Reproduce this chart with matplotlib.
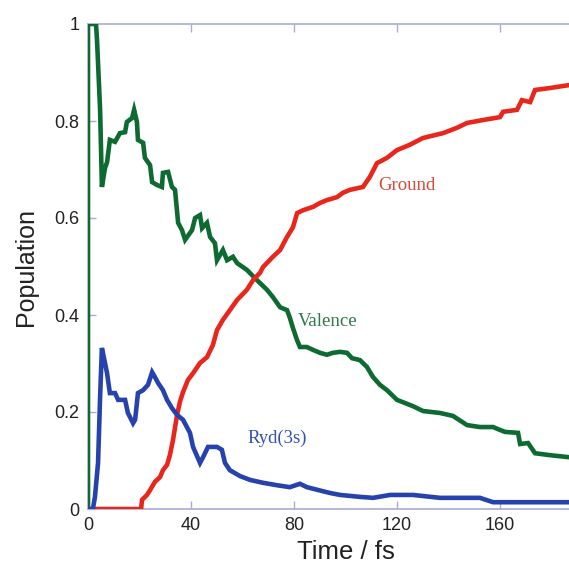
import matplotlib
matplotlib.use("Agg")
import matplotlib.pyplot as plt

# Time (fs) and population for each electronic state
valence_t = [0, 0, 3.1, 3.5, 4.7, 5.4, 6.6, 7.4, 8.5, 10.5, 12.4, 14.4, 15.1, 17.1, 17.9,
             19.0, 19.4, 21.4, 22.1, 24.1, 24.9, 26.8, 28.7, 29.1, 31.1, 32.6, 33.8, 35.0,
             36.5, 37.7, 40.4, 41.6, 43.5, 44.3, 46.2, 47.4, 49.3, 50.1, 52.4, 54.0, 56.3,
             57.9, 61.7, 65.6, 69.5, 71.8, 74.6, 77.3, 78.4, 79.6, 81.2, 82.3, 85.0, 87.4,
             90.1, 92.8, 95.1, 97.9, 100.6, 102.5, 105.6, 108.3, 110.7, 113.4, 116.1, 120.0,
             126.2, 130.1, 136.7, 141.7, 147.2, 152.2, 157.3, 160.0, 161.9, 167.0, 167.8,
             170.9, 173.6, 179.4, 186.4, 190.0]
valence_p = [0, 1.0, 1.0, 0.967, 0.823, 0.664, 0.703, 0.715, 0.761, 0.757, 0.775, 0.777,
             0.798, 0.806, 0.823, 0.798, 0.761, 0.755, 0.724, 0.709, 0.674, 0.668, 0.664,
             0.693, 0.695, 0.664, 0.658, 0.590, 0.575, 0.555, 0.575, 0.600, 0.606, 0.579,
             0.590, 0.561, 0.548, 0.513, 0.534, 0.513, 0.520, 0.507, 0.493, 0.472, 0.452,
             0.437, 0.416, 0.410, 0.394, 0.373, 0.348, 0.334, 0.334, 0.328, 0.322, 0.318,
             0.322, 0.324, 0.322, 0.311, 0.307, 0.293, 0.272, 0.256, 0.245, 0.225, 0.212,
             0.202, 0.198, 0.192, 0.173, 0.169, 0.169, 0.163, 0.159, 0.157, 0.134, 0.136,
             0.115, 0.111, 0.107, 0.106]

ground_t = [0, 20.6, 21.0, 22.9, 24.1, 26.0, 28.0, 29.1, 30.7, 31.8, 33.0, 34.6, 35.7, 36.9,
            38.8, 40.8, 43.5, 46.2, 48.5, 50.1, 52.4, 55.1, 57.9, 61.7, 64.1, 66.8, 68.0,
            71.8, 74.6, 77.3, 79.6, 81.2, 83.5, 87.4, 90.1, 92.8, 96.7, 99.0, 101.7, 106.8,
            109.5, 112.2, 116.1, 120.0, 125.0, 130.1, 137.9, 143.3, 147.2, 153.4, 160.0,
            161.2, 166.6, 168.5, 171.7, 173.6, 179.4, 186.8, 190.0]
ground_p = [0, 0, 0.019, 0.029, 0.039, 0.056, 0.066, 0.080, 0.091, 0.111, 0.142, 0.194,
            0.221, 0.241, 0.266, 0.280, 0.301, 0.313, 0.338, 0.369, 0.390, 0.410, 0.431,
            0.452, 0.472, 0.487, 0.499, 0.520, 0.534, 0.561, 0.581, 0.610, 0.616, 0.623,
            0.631, 0.637, 0.643, 0.652, 0.658, 0.664, 0.685, 0.713, 0.724, 0.740, 0.751,
            0.765, 0.775, 0.786, 0.796, 0.802, 0.808, 0.819, 0.823, 0.843, 0.839, 0.864,
            0.868, 0.874, 0.876]

ryd_t = [0, 1.9, 2.7, 3.9, 4.7, 5.4, 6.6, 7.4, 8.5, 10.5, 11.7, 14.4, 15.5, 17.5, 18.3,
         19.4, 21.4, 23.3, 24.9, 26.0, 27.2, 29.1, 30.7, 32.6, 34.6, 36.9, 39.6, 40.8,
         43.5, 44.7, 46.6, 50.1, 52.0, 53.2, 55.1, 59.0, 62.9, 68.0, 73.4, 78.4, 82.3,
         85.0, 94.0, 97.9, 105.6, 110.7, 117.3, 126.2, 136.7, 152.2, 157.3, 165.0, 186.0,
         190.0]
ryd_p = [0, 0, 0.025, 0.095, 0.231, 0.332, 0.301, 0.280, 0.239, 0.239, 0.225, 0.225, 0.198,
         0.177, 0.184, 0.239, 0.245, 0.256, 0.282, 0.272, 0.260, 0.245, 0.225, 0.208, 0.194,
         0.184, 0.157, 0.128, 0.095, 0.107, 0.128, 0.128, 0.122, 0.095, 0.080, 0.068, 0.060,
         0.054, 0.049, 0.045, 0.052, 0.045, 0.033, 0.029, 0.025, 0.023, 0.029, 0.029, 0.023,
         0.023, 0.014, 0.014, 0.014, 0.014]

x_ticks = [0, 40, 80, 120, 160]
y_ticks = [0, 0.2, 0.4, 0.6, 0.8, 1.0]
y_tick_labels = ["0", "0.2", "0.4", "0.6", "0.8", "1"]

green = "#0d6b32"
red = "#e8261c"
blue = "#2642ad"
spine_col = "#a8acd8"

W, H = 569, 563
fig = plt.figure(figsize=(W / 100, H / 100), dpi=100)
left, right, top, bottom = 88, 603, 24, 509
ax = fig.add_axes([left / W, (H - bottom) / H, (right - left) / W, (bottom - top) / H])

for t, p, c in ((valence_t, valence_p, green), (ground_t, ground_p, red), (ryd_t, ryd_p, blue)):
    ax.plot(t, p, color=c, lw=3.3, solid_joinstyle="miter", zorder=3)

ax.set_xlim(0, 200)
ax.set_ylim(0, 1)
ax.set_xticks(x_ticks)
ax.set_yticks(y_ticks)
ax.set_yticklabels(y_tick_labels)

for s in ax.spines.values():
    s.set_color(spine_col)
    s.set_linewidth(1.2)
ax.spines["right"].set_visible(False)

ax.tick_params(direction="in", length=6, width=1, color=spine_col,
               top=True, labelsize=13, labelcolor="#222222", pad=6,
               labelfontfamily="Liberation Sans")

ax.set_xlabel("Time / fs", fontsize=18.5, family="Liberation Sans", color="#222222", labelpad=4)
ax.set_ylabel("Population", fontsize=18, family="Liberation Sans", color="#222222", labelpad=12)

ax.text(112.6, 0.667, "Ground", color="#d84a3a", fontsize=13.5, family="Liberation Serif",
        va="center", ha="left")
ax.text(81.6, 0.386, "Valence", color="#2f7a48", fontsize=13.5, family="Liberation Serif",
        va="center", ha="left")
ax.text(62.1, 0.146, "Ryd(3s)", color="#3650b0", fontsize=13.5, family="Liberation Serif",
        va="center", ha="left")

fig.savefig("out.png", dpi=100)
